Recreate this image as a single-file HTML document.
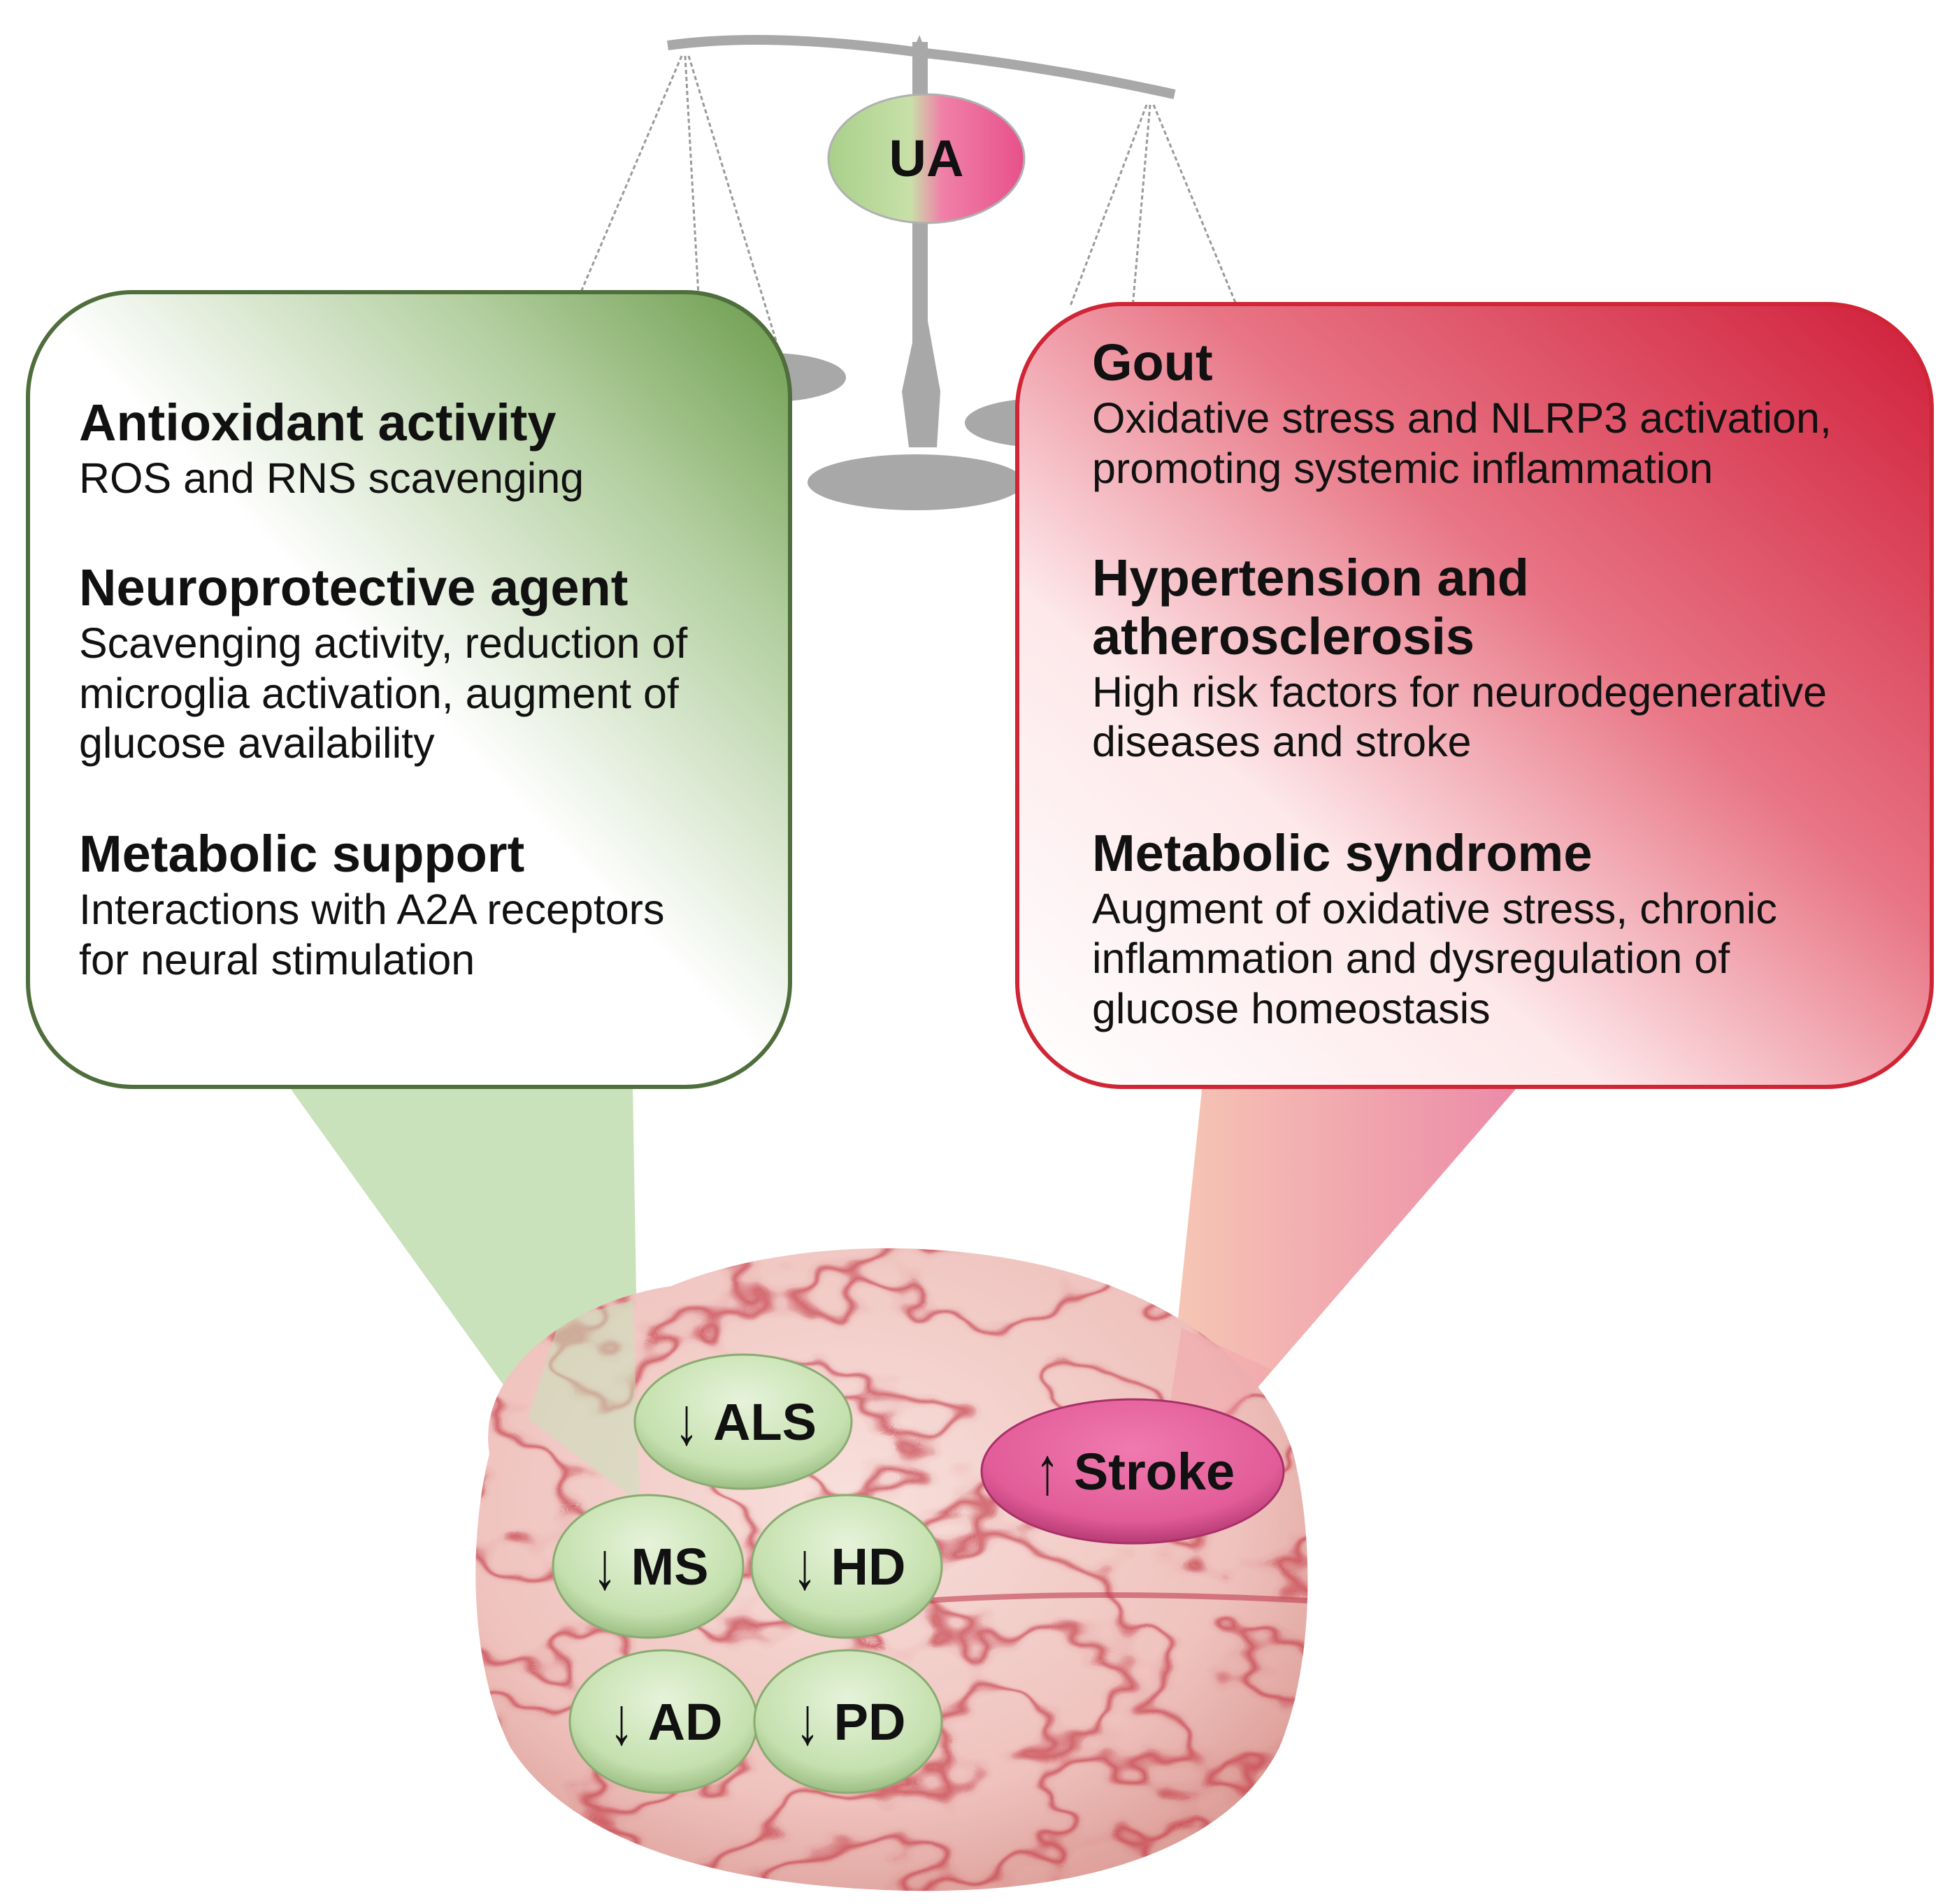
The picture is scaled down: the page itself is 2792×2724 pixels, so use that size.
<!DOCTYPE html>
<html><head><meta charset="utf-8"><style>
html,body{margin:0;padding:0;background:#fff}
#c{position:relative;width:2792px;height:2724px;overflow:hidden;font-family:"Liberation Sans",Arial,sans-serif;color:#111}
svg{position:absolute;left:0;top:0}
.t{position:absolute;white-space:nowrap}
.h{font-weight:bold;font-size:74px;line-height:80px}
.b{font-size:61px;line-height:70px}
.o{position:absolute;font-weight:bold;font-size:74px;line-height:80px;text-align:center;white-space:nowrap}
.o span{font-weight:normal;font-size:96px;display:inline-block;transform:scaleX(0.7);vertical-align:-6px;margin-right:14px}
</style></head><body><div id="c">
<svg width="2792" height="2724" viewBox="0 0 2792 2724">
<defs>
<linearGradient id="gl" x1="0" y1="1" x2="1" y2="0">
<stop offset="0" stop-color="#fff"/><stop offset="0.5" stop-color="#fff"/><stop offset="0.78" stop-color="#b3cfa0"/><stop offset="1" stop-color="#6a9a4a"/></linearGradient>
<linearGradient id="gr" x1="0" y1="1" x2="1" y2="0">
<stop offset="0" stop-color="#fff"/><stop offset="0.32" stop-color="#fde8ea"/><stop offset="0.6" stop-color="#e87585"/><stop offset="1" stop-color="#d01e3a"/></linearGradient>
<linearGradient id="rf" x1="0" y1="0" x2="1" y2="0">
<stop offset="0" stop-color="#f6c7b5"/><stop offset="1" stop-color="#ec8aa8"/></linearGradient>
<linearGradient id="ua" x1="0" y1="0" x2="1" y2="0">
<stop offset="0" stop-color="#a8d08a"/><stop offset="0.42" stop-color="#c8e0a8"/><stop offset="0.58" stop-color="#f080a8"/><stop offset="1" stop-color="#e8508a"/></linearGradient>
<radialGradient id="ov" cx="0.5" cy="0.35" r="0.7">
<stop offset="0" stop-color="#e6f3da"/><stop offset="0.7" stop-color="#c5e0ae"/><stop offset="1" stop-color="#8fb478"/></radialGradient>
<radialGradient id="st" cx="0.5" cy="0.35" r="0.7">
<stop offset="0" stop-color="#f07ab0"/><stop offset="0.7" stop-color="#e25c98"/><stop offset="1" stop-color="#a83068"/></radialGradient>
<radialGradient id="br" cx="0.45" cy="0.4" r="0.65">
<stop offset="0" stop-color="#f8e0dc"/><stop offset="0.7" stop-color="#efc2bd"/><stop offset="1" stop-color="#dc9c96"/></radialGradient>
<filter id="veins" x="0" y="0" width="100%" height="100%" color-interpolation-filters="sRGB">
<feTurbulence type="fractalNoise" baseFrequency="0.006 0.009" numOctaves="3" seed="11" result="n"/>
<feColorMatrix in="n" type="matrix" values="0 0 0 0 0  0 0 0 0 0  0 0 0 0 0  1 0 0 0 0" result="a"/>
<feComponentTransfer in="a" result="band">
<feFuncA type="table" tableValues="0 0 0 0 0 0 0 0 0 0 0.1 0.9 0.1 0 0 0 0 0 0 0 0 0 0 0 0"/>
</feComponentTransfer>
<feFlood flood-color="#c0303e" result="f"/>
<feComposite in="f" in2="band" operator="in"/>
</filter>
<clipPath id="bc"><path d="M700 2080 C680 1960 820 1860 960 1840 C1080 1790 1260 1770 1440 1800 C1620 1830 1800 1920 1850 2080 C1880 2200 1880 2380 1830 2500 C1760 2640 1560 2710 1300 2705 C1040 2700 820 2640 730 2500 C670 2380 670 2200 700 2080Z"/></clipPath>
</defs>
<path d="M955 65 Q1100 45 1315 75 Q1500 95 1680 135" stroke="#a8a8a8" stroke-width="14" fill="none"/>
<rect x="1305" y="60" width="22" height="570" fill="#a8a8a8"/>
<path d="M1300 640 L1290 560 L1320 420 L1345 560 L1340 640Z" fill="#a8a8a8"/>
<ellipse cx="1310" cy="690" rx="155" ry="40" fill="#a8a8a8"/>
<ellipse cx="1100" cy="540" rx="110" ry="35" fill="#a8a8a8"/>
<ellipse cx="1490" cy="605" rx="110" ry="35" fill="#a8a8a8"/>
<polygon points="1315,50 1305,75 1325,75" fill="#a8a8a8"/>
<g stroke="#9a9a9a" stroke-width="3" stroke-dasharray="6 4" fill="none">
<path d="M975 80 L830 420"/><path d="M980 80 L1005 530"/><path d="M985 80 L1120 520"/>
<path d="M1640 150 L1530 440"/><path d="M1645 150 L1620 440"/><path d="M1650 150 L1770 440"/>
</g>
<polygon points="410,1550 905,1550 915,2150 755,2030" fill="#c9e2bb"/>
<polygon points="1720,1550 2175,1550 1760,2030 1670,2030" fill="url(#rf)"/>
<g clip-path="url(#bc)">
<rect x="660" y="1760" width="1230" height="960" fill="url(#br)"/>
<rect x="660" y="1760" width="1230" height="960" filter="url(#veins)" opacity="0.7"/>
<path d="M1200 2300 Q1500 2270 1870 2290" stroke="#c04050" stroke-width="8" fill="none" opacity="0.6"/>
</g>
<polygon points="755,2030 915,2150 905,1860 800,1890" fill="#c9e2bb" opacity="0.55"/>
<polygon points="1670,2030 1760,2030 1820,1960 1690,1900" fill="#f2a0a8" opacity="0.45"/>
<rect x="40" y="418" width="1090" height="1137" rx="150" fill="url(#gl)" stroke="#4f6e3c" stroke-width="6"/>
<rect x="1455" y="435" width="1308" height="1120" rx="150" fill="url(#gr)" stroke="#d02535" stroke-width="6"/>
<ellipse cx="1325" cy="227" rx="140" ry="92" fill="url(#ua)" stroke="#b0b0b0" stroke-width="3"/>
<g stroke="#8aab72" stroke-width="3">
<ellipse cx="1063" cy="2034" rx="155" ry="96" fill="url(#ov)"/>
<ellipse cx="927" cy="2241" rx="136" ry="102" fill="url(#ov)"/>
<ellipse cx="1211" cy="2241" rx="136" ry="102" fill="url(#ov)"/>
<ellipse cx="949" cy="2463" rx="134" ry="102" fill="url(#ov)"/>
<ellipse cx="1213" cy="2463" rx="134" ry="102" fill="url(#ov)"/>
</g>
<ellipse cx="1620" cy="2105" rx="216" ry="103" fill="url(#st)" stroke="#a83068" stroke-width="3"/>
</svg>
<div class="o" style="left:1185px;top:187px;width:280px">UA</div>
<div class="o" style="left:908px;top:1994px;width:310px"><span>↓</span>ALS</div>
<div class="o" style="left:791px;top:2201px;width:272px"><span>↓</span>MS</div>
<div class="o" style="left:1075px;top:2201px;width:272px"><span>↓</span>HD</div>
<div class="o" style="left:815px;top:2423px;width:268px"><span>↓</span>AD</div>
<div class="o" style="left:1079px;top:2423px;width:268px"><span>↓</span>PD</div>
<div class="o" style="left:1404px;top:2065px;width:432px"><span>↑</span>Stroke</div>

<div class="t h" style="left:113px;top:565px">Antioxidant activity</div>
<div class="t b" style="left:113px;top:649px">ROS and RNS scavenging</div>
<div class="t h" style="left:113px;top:801px">Neuroprotective agent</div>
<div class="t b" style="left:113px;top:885px">Scavenging activity, reduction of</div>
<div class="t b" style="left:113px;top:957px">microglia activation, augment of</div>
<div class="t b" style="left:113px;top:1028px">glucose availability</div>
<div class="t h" style="left:113px;top:1182px">Metabolic support</div>
<div class="t b" style="left:113px;top:1266px">Interactions with A2A receptors</div>
<div class="t b" style="left:113px;top:1338px">for neural stimulation</div>

<div class="t h" style="left:1562px;top:479px">Gout</div>
<div class="t b" style="left:1562px;top:563px">Oxidative stress and NLRP3 activation,</div>
<div class="t b" style="left:1562px;top:635px">promoting systemic inflammation</div>
<div class="t h" style="left:1562px;top:787px">Hypertension and</div>
<div class="t h" style="left:1562px;top:871px">atherosclerosis</div>
<div class="t b" style="left:1562px;top:955px">High risk factors for neurodegenerative</div>
<div class="t b" style="left:1562px;top:1026px">diseases and stroke</div>
<div class="t h" style="left:1562px;top:1181px">Metabolic syndrome</div>
<div class="t b" style="left:1562px;top:1265px">Augment of oxidative stress, chronic</div>
<div class="t b" style="left:1562px;top:1336px">inflammation and dysregulation of</div>
<div class="t b" style="left:1562px;top:1408px">glucose homeostasis</div>
</div></body></html>
